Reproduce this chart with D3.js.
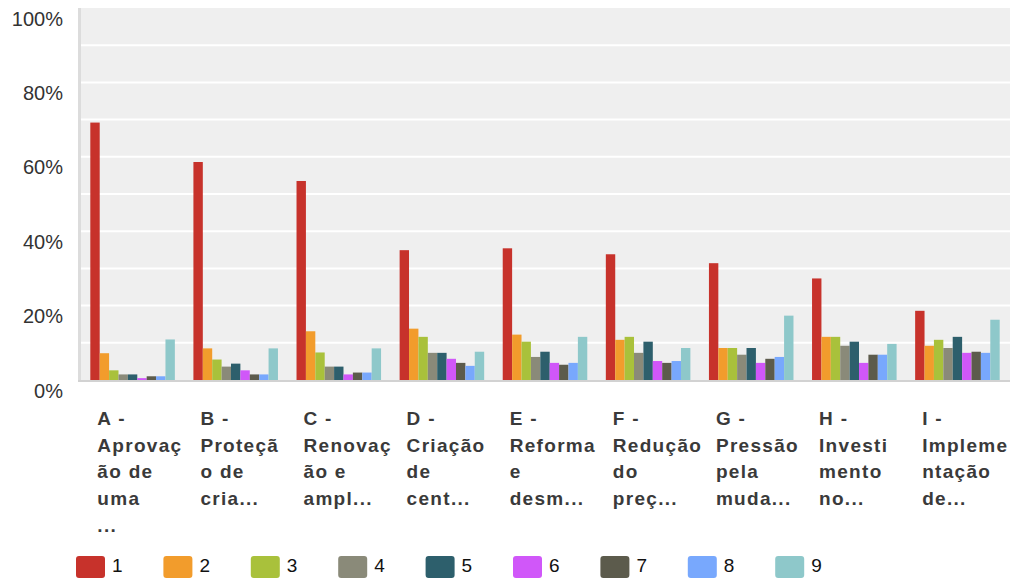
<!DOCTYPE html>
<html>
<head>
<meta charset="utf-8">
<script src="https://cdn.jsdelivr.net/npm/d3@7"></script>
<style>
  body { margin: 0; background: #fff; }
  svg { display: block; font-family: "Liberation Sans", Arial, sans-serif; }
</style>
</head>
<body>
<svg></svg>
<script>
// categorias (rótulos já quebrados como no original)
const categories = ['A', 'B', 'C', 'D', 'E', 'F', 'G', 'H', 'I']
const categoryLines = [
    ['A -', 'Aprovaç', 'ão de', 'uma', '...'],
    ['B -', 'Proteçã', 'o de', 'cria...'],
    ['C -', 'Renovaç', 'ão e', 'ampl...'],
    ['D -', 'Criação', 'de', 'cent...'],
    ['E -', 'Reforma', 'e', 'desm...'],
    ['F -', 'Redução', 'do', 'preç...'],
    ['G -', 'Pressão', 'pela', 'muda...'],
    ['H -', 'Investi', 'mento', 'no...'],
    ['I -', 'Impleme', 'ntação', 'de...']
]
const seriesNames = ['1', '2', '3', '4', '5', '6', '7', '8', '9']
const seriesColors = ['#c7322b', '#f29c2c', '#a9c13b', '#8a8a79', '#2d5f6c',
                      '#d057f9', '#5c5b4c', '#78a8fd', '#8ec8ca']

// valores (%) por série, na ordem das categorias A..I
const s1 = [69.2, 58.6, 53.5, 34.9, 35.4, 33.8, 31.4, 27.3, 18.6]
const s2 = [7.2, 8.5, 13.1, 13.8, 12.2, 10.8, 8.6, 11.6, 9.2]
const s3 = [2.6, 5.5, 7.4, 11.6, 10.3, 11.6, 8.6, 11.6, 10.8]
const s4 = [1.5, 3.6, 3.6, 7.3, 6.2, 7.3, 6.8, 9.2, 8.6]
const s5 = [1.5, 4.4, 3.6, 7.3, 7.6, 10.3, 8.6, 10.3, 11.6]
const s6 = [0.5, 2.6, 1.5, 5.7, 4.6, 5.1, 4.6, 4.6, 7.3]
const s7 = [1.0, 1.5, 2.0, 4.6, 4.1, 4.6, 5.7, 6.8, 7.6]
const s8 = [1.0, 1.5, 2.0, 3.8, 4.6, 5.1, 6.2, 6.8, 7.3]
const s9 = [10.9, 8.5, 8.5, 7.6, 11.6, 8.6, 17.3, 9.7, 16.2]
const series = [s1, s2, s3, s4, s5, s6, s7, s8, s9]

const yTicks = [0, 20, 40, 60, 80, 100]
const gridValues = [10, 20, 30, 40, 50, 60, 70, 80, 90]

// dimensões
let width = 1010
let height = 579
let plot = {left: 80, right: 1010, top: 8, bottom: 380}

let svg = d3.select('svg')
    .attr('width', width)
    .attr('height', height)

// escalas
let x0 = d3.scaleBand()
    .domain(categories)
    .range([plot.left, plot.right])
    .paddingInner(0.18)
    .paddingOuter(0.1)
let x1 = d3.scaleBand()
    .domain(seriesNames)
    .range([0, x0.bandwidth()])
let yScale = d3.scaleLinear()
    .domain([0, 100])
    .range([plot.bottom, plot.top])

// fundo da área do gráfico
svg.append('rect')
    .attr('x', plot.left)
    .attr('y', plot.top)
    .attr('width', plot.right - plot.left)
    .attr('height', plot.bottom - plot.top)
    .attr('fill', '#efefef')

// linhas de grade
svg.append('g').selectAll('line').data(gridValues).enter()
    .append('line')
    .attr('x1', plot.left)
    .attr('x2', plot.right)
    .attr('y1', d => yScale(d))
    .attr('y2', d => yScale(d))
    .attr('stroke', '#fff')
    .attr('stroke-width', 2)

// bordas esquerda e inferior
svg.append('line')
    .attr('x1', plot.left - 0.5).attr('x2', plot.left - 0.5)
    .attr('y1', plot.top).attr('y2', plot.bottom + 1)
    .attr('stroke', '#dcdcdc').attr('stroke-width', 3)

// barras
let groups = svg.append('g').selectAll('g').data(categories).enter()
    .append('g')
    .attr('transform', d => 'translate(' + x0(d) + ',0)')

groups.selectAll('rect')
    .data((c, ci) => series.map((s, si) => ({name: seriesNames[si], value: s[ci], color: seriesColors[si]})))
    .enter()
    .append('rect')
    .attr('x', d => x1(d.name))
    .attr('y', d => yScale(d.value))
    .attr('width', x1.bandwidth())
    .attr('height', d => yScale(0) - yScale(d.value))
    .attr('fill', d => d.color)

svg.append('line')
    .attr('x1', plot.left - 2).attr('x2', plot.right)
    .attr('y1', plot.bottom + 1).attr('y2', plot.bottom + 1)
    .attr('stroke', '#d2d2d2').attr('stroke-width', 2)

// eixo Y
let yAxis = d3.axisLeft(yScale)
    .tickValues(yTicks)
    .tickFormat(d => d + '%')
    .tickSize(0)
    .tickPadding(17)
let yg = svg.append('g')
    .attr('transform', 'translate(' + plot.left + ',0)')
    .call(yAxis)
yg.select('.domain').remove()
yg.selectAll('text')
    .attr('dy', '17px')
    .attr('font-size', 20)
    .attr('font-family', '"Liberation Sans", Arial, sans-serif')
    .attr('fill', '#333')

// rótulos do eixo X
let xLabels = svg.append('g').selectAll('text').data(categories).enter()
    .append('text')
    .attr('x', d => x0(d) + 7)
    .attr('y', 425)
    .attr('font-size', 19)
    .attr('font-weight', 'bold')
    .attr('letter-spacing', '1.3px')
    .attr('fill', '#3a3a3a')

xLabels.selectAll('tspan')
    .data((d, i) => categoryLines[i])
    .enter()
    .append('tspan')
    .attr('x', function () { return d3.select(this.parentNode).attr('x') })
    .attr('dy', (d, i) => i === 0 ? 0 : 26.7)
    .text(d => d)

// legenda
let legend = svg.append('g').selectAll('g').data(seriesNames).enter()
    .append('g')
    .attr('transform', (d, i) => 'translate(' + (76 + i * 87.4) + ',556)')

legend.append('rect')
    .attr('width', 29)
    .attr('height', 22)
    .attr('rx', 3)
    .attr('fill', (d, i) => seriesColors[i])

legend.append('text')
    .attr('x', 36)
    .attr('y', 16)
    .attr('font-size', 19)
    .attr('fill', '#111')
    .text(d => d)
</script>
</body>
</html>
